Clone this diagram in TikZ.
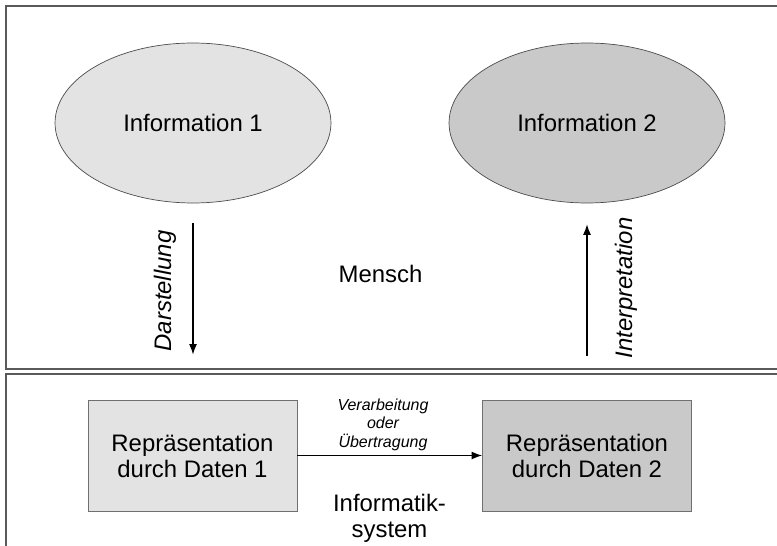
\documentclass[tikz,border=0pt]{standalone}
\usepackage{fontspec}
\setmainfont{Liberation Sans}
\usetikzlibrary{shapes.geometric,arrows.meta}
\definecolor{lightfill}{HTML}{E3E3E3}
\definecolor{darkfill}{HTML}{C9C9C9}
\definecolor{framegray}{HTML}{5A5A5A}
\definecolor{boxgray}{HTML}{707070}
\tikzset{
  frame/.style={draw=framegray, line width=0.8pt},
  infoell/.style={ellipse, draw=black!70, line width=0.4pt, minimum width=5.52cm, minimum height=3.2cm, inner sep=0pt, font=\fontsize{13.6}{15}\selectfont},
  repbox/.style={rectangle, draw=boxgray, line width=0.5pt, minimum width=4.18cm, minimum height=2.22cm, align=center, font=\fontsize{13.6}{14.8}\selectfont},
  flow/.style={-{Latex[length=6pt,width=4.5pt]}, line width=0.6pt},
  bigtext/.style={align=center, font=\fontsize{13.6}{15}\selectfont},
  sidetext/.style={font=\fontsize{13.6}{15}\selectfont\itshape},
  smalltext/.style={align=center, font=\fontsize{9.1}{10.5}\selectfont\itshape}
}
\begin{document}
\begin{tikzpicture}[x=0.02cm,y=0.02cm]
        \useasboundingbox (0,0) rectangle (777,545);
        \clip (0,0) rectangle (777,545);
        % frames
        \draw[frame] (6,176) rectangle (790,539);
        \draw[frame] (6,-10) rectangle (790,171);
        % ellipses
        \node[infoell, fill=lightfill] (info1) at (193,422) {Information 1};
        \node[infoell, fill=darkfill] (info2) at (587,422) {Information 2};
        % boxes
        \node[repbox, fill=lightfill] (rep1) at (192.5,89.5) {Repräsentation\\durch Daten 1};
        \node[repbox, fill=darkfill] (rep2) at (587,89.5) {Repräsentation\\durch Daten 2};
        % arrows
        \draw[flow, shorten <=0.4cm, shorten >=0.9cm] (info1.south) -- (info1.south |- rep1.north);
        \draw[flow, shorten <=0.88cm, shorten >=0.42cm] (info2.south |- rep2.north) -- (info2.south);
        \draw[flow] (rep1) -- (rep2);
        % labels
        \node[sidetext, rotate=90] (darst) at (165,254) {Darstellung};
        \node[sidetext, rotate=90] (interp) at (626,257) {Interpretation};
        \node[bigtext] (mensch) at (380.5,271) {Mensch};
        \node[smalltext] (verarb) at (383,120.5) {Verarbeitung\\oder\\Übertragung};
        \node[bigtext] (infsys) at (389.5,27) {Informatik-\\system};
    \end{tikzpicture}
\end{document}
